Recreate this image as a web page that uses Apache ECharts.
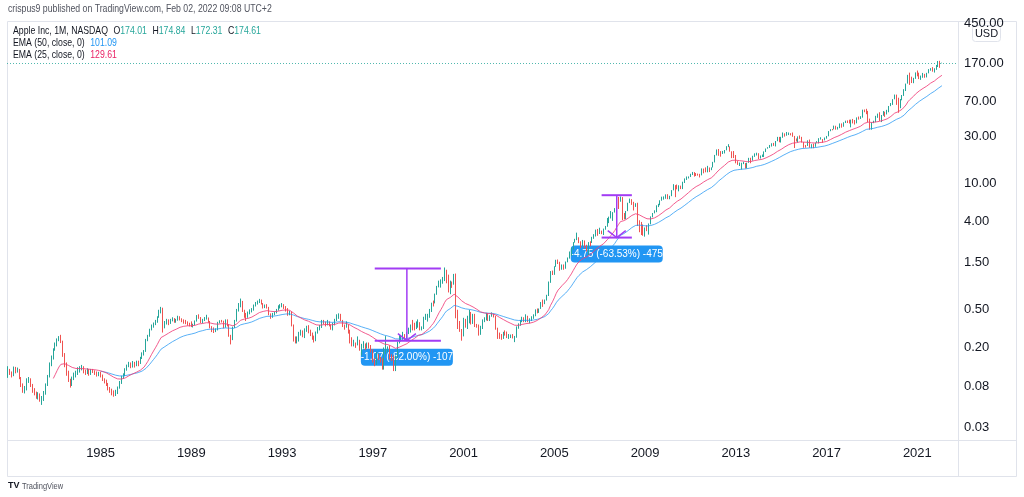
<!DOCTYPE html>
<html>
<head>
<meta charset="utf-8">
<script src="https://cdn.jsdelivr.net/npm/echarts@6/dist/echarts.min.js"></script>
<style>
html, body { margin: 0; padding: 0; background: #fff; }
#chart { width: 1024px; height: 497px; }
</style>
</head>
<body>
<div id="chart"></div>
<script>
// AAPL monthly bars, Dec 1980 .. Feb 2022 (split adjusted)
const firstYear = 1980, firstMonth = 12
const emptyMonths = 8 // blank space right of the last bar

const closes = [
  0.117,
  0.109, 0.104, 0.121, 0.114, 0.118, 0.098, 0.082, 0.071, 0.075, 0.091, 0.094, 0.082, // 1981
  0.072, 0.068, 0.063, 0.065, 0.058, 0.060, 0.068, 0.082, 0.100, 0.135, 0.155, 0.190, // 1982
  0.215, 0.240, 0.252, 0.230, 0.165, 0.132, 0.108, 0.092, 0.082, 0.095, 0.100, 0.107, // 1983
  0.118, 0.120, 0.126, 0.113, 0.110, 0.118, 0.108, 0.116, 0.113, 0.110, 0.105, 0.108, // 1984
  0.102, 0.093, 0.090, 0.083, 0.076, 0.071, 0.068, 0.066, 0.070, 0.076, 0.086, 0.098, // 1985
  0.103, 0.118, 0.128, 0.136, 0.127, 0.140, 0.131, 0.141, 0.137, 0.155, 0.172, 0.182, // 1986
  0.238, 0.262, 0.305, 0.335, 0.350, 0.372, 0.410, 0.470, 0.480, 0.325, 0.360, 0.375, // 1987
  0.362, 0.378, 0.392, 0.372, 0.382, 0.415, 0.395, 0.382, 0.372, 0.365, 0.345, 0.340, // 1988
  0.335, 0.345, 0.375, 0.420, 0.408, 0.368, 0.385, 0.395, 0.400, 0.370, 0.320, 0.312, // 1989
  0.302, 0.305, 0.360, 0.375, 0.372, 0.322, 0.378, 0.338, 0.262, 0.240, 0.322, 0.380, // 1990
  0.480, 0.540, 0.600, 0.480, 0.430, 0.420, 0.455, 0.480, 0.490, 0.545, 0.575, 0.590, // 1991
  0.610, 0.565, 0.525, 0.540, 0.520, 0.440, 0.420, 0.440, 0.460, 0.490, 0.520, 0.535, // 1992
  0.545, 0.520, 0.505, 0.445, 0.470, 0.340, 0.240, 0.230, 0.245, 0.280, 0.290, 0.260, // 1993
  0.300, 0.320, 0.295, 0.275, 0.255, 0.238, 0.285, 0.310, 0.330, 0.370, 0.360, 0.350, // 1994
  0.368, 0.335, 0.315, 0.350, 0.385, 0.410, 0.440, 0.380, 0.332, 0.325, 0.345, 0.285, // 1995
  0.245, 0.215, 0.220, 0.215, 0.240, 0.195, 0.205, 0.215, 0.200, 0.210, 0.205, 0.185, // 1996
  0.150, 0.135, 0.170, 0.155, 0.152, 0.128, 0.195, 0.195, 0.195, 0.160, 0.158, 0.117, // 1997
  0.158, 0.226, 0.240, 0.250, 0.268, 0.252, 0.285, 0.300, 0.340, 0.335, 0.325, 0.365, // 1998
  0.365, 0.315, 0.320, 0.410, 0.410, 0.410, 0.495, 0.575, 0.570, 0.715, 0.840, 0.918, // 1999
  0.920, 1.020, 1.210, 1.110, 0.750, 0.935, 0.910, 1.090, 0.460, 0.350, 0.295, 0.265, // 2000
  0.385, 0.325, 0.395, 0.455, 0.355, 0.415, 0.335, 0.330, 0.277, 0.315, 0.380, 0.391, // 2001
  0.440, 0.385, 0.423, 0.434, 0.416, 0.317, 0.271, 0.263, 0.259, 0.287, 0.270, 0.256, // 2002
  0.257, 0.269, 0.253, 0.255, 0.320, 0.341, 0.377, 0.403, 0.370, 0.409, 0.375, 0.382, // 2003
  0.402, 0.427, 0.483, 0.461, 0.502, 0.581, 0.580, 0.615, 0.692, 0.938, 1.200, 1.150, // 2004
  1.373, 1.606, 1.488, 1.290, 1.418, 1.315, 1.523, 1.677, 1.915, 2.053, 2.423, 2.567, // 2005
  2.699, 2.449, 2.240, 2.519, 2.133, 2.040, 2.425, 2.421, 2.749, 2.898, 3.272, 3.030, // 2006
  3.061, 3.000, 3.318, 3.564, 4.332, 4.359, 4.705, 4.966, 5.484, 6.782, 6.521, 7.074, // 2007
  4.831, 4.463, 5.125, 6.212, 6.743, 5.980, 5.669, 6.047, 4.059, 3.830, 3.297, 3.047, // 2008
  3.219, 3.187, 3.754, 4.494, 4.857, 5.087, 5.819, 5.981, 6.620, 6.732, 7.128, 7.530, // 2009
  6.859, 7.307, 8.392, 9.325, 9.172, 8.983, 9.188, 8.663, 10.134, 10.746, 11.201, 11.520, // 2010
  12.119, 12.614, 12.446, 12.429, 12.422, 11.988, 13.946, 13.714, 13.618, 14.464, 13.563, 14.464, // 2011
  16.302, 19.372, 21.412, 20.857, 20.633, 20.857, 21.812, 23.759, 23.826, 21.189, 20.904, 19.006, // 2012
  16.199, 15.808, 15.809, 15.813, 16.062, 14.147, 16.161, 17.400, 17.027, 18.605, 19.860, 20.037, // 2013
  17.879, 18.570, 19.169, 21.074, 22.607, 23.232, 23.900, 25.625, 25.187, 27.000, 29.733, 27.595, // 2014
  29.290, 32.115, 31.107, 31.265, 32.573, 31.357, 30.325, 28.190, 27.575, 29.875, 29.575, 26.315, // 2015
  24.335, 24.172, 27.248, 23.435, 24.965, 23.900, 26.052, 26.525, 28.263, 28.385, 27.630, 28.955, // 2016
  30.338, 34.248, 35.915, 35.913, 38.190, 36.005, 37.183, 41.000, 38.530, 42.260, 42.962, 42.307, // 2017
  41.857, 44.530, 41.945, 41.315, 46.718, 46.278, 47.573, 56.908, 56.436, 54.720, 44.645, 39.435, // 2018
  41.610, 43.288, 47.488, 50.168, 43.768, 49.480, 53.260, 52.185, 55.993, 62.190, 66.813, 73.413, // 2019
  77.378, 68.340, 63.573, 73.450, 79.485, 91.200, 106.26, 129.04, 115.81, 108.86, 119.05, 132.69, // 2020
  131.96, 121.26, 122.15, 131.46, 124.61, 136.96, 145.86, 151.83, 141.50, 149.80, 165.30, 177.57, // 2021
  174.78, 174.61 // 2022
]

const highs = [
  0.128,
  0.120, 0.113, 0.127, 0.126, 0.124, 0.120, 0.099, 0.085, 0.080, 0.096, 0.099, 0.096,
  0.084, 0.076, 0.070, 0.069, 0.067, 0.063, 0.071, 0.085, 0.104, 0.140, 0.165, 0.196,
  0.225, 0.248, 0.262, 0.270, 0.235, 0.175, 0.140, 0.115, 0.095, 0.100, 0.110, 0.115,
  0.125, 0.128, 0.132, 0.128, 0.118, 0.122, 0.120, 0.120, 0.120, 0.116, 0.113, 0.112,
  0.112, 0.105, 0.096, 0.093, 0.086, 0.078, 0.075, 0.072, 0.073, 0.079, 0.090, 0.102,
  0.108, 0.122, 0.133, 0.142, 0.140, 0.145, 0.142, 0.146, 0.146, 0.160, 0.178, 0.188,
  0.245, 0.270, 0.312, 0.345, 0.362, 0.385, 0.420, 0.490, 0.525, 0.515, 0.375, 0.395,
  0.390, 0.395, 0.410, 0.402, 0.395, 0.425, 0.420, 0.400, 0.390, 0.385, 0.372, 0.360,
  0.372, 0.352, 0.380, 0.432, 0.440, 0.412, 0.395, 0.412, 0.435, 0.408, 0.375, 0.332,
  0.322, 0.315, 0.368, 0.382, 0.385, 0.378, 0.390, 0.390, 0.345, 0.270, 0.328, 0.385,
  0.500, 0.575, 0.640, 0.605, 0.490, 0.455, 0.470, 0.495, 0.510, 0.555, 0.590, 0.610,
  0.635, 0.625, 0.575, 0.555, 0.560, 0.525, 0.450, 0.455, 0.470, 0.500, 0.545, 0.560,
  0.575, 0.560, 0.535, 0.510, 0.480, 0.470, 0.345, 0.260, 0.260, 0.290, 0.305, 0.300,
  0.315, 0.335, 0.340, 0.305, 0.285, 0.265, 0.292, 0.325, 0.342, 0.385, 0.385, 0.370,
  0.385, 0.372, 0.345, 0.360, 0.395, 0.440, 0.450, 0.445, 0.385, 0.345, 0.372, 0.345,
  0.305, 0.255, 0.240, 0.225, 0.260, 0.240, 0.218, 0.232, 0.220, 0.225, 0.225, 0.212,
  0.192, 0.155, 0.180, 0.172, 0.160, 0.155, 0.200, 0.262, 0.205, 0.210, 0.170, 0.165,
  0.165, 0.230, 0.270, 0.265, 0.290, 0.275, 0.290, 0.320, 0.345, 0.385, 0.360, 0.372,
  0.390, 0.365, 0.330, 0.415, 0.445, 0.445, 0.500, 0.580, 0.610, 0.720, 0.865, 0.980,
  1.010, 1.070, 1.340, 1.270, 1.130, 0.980, 0.960, 1.150, 1.160, 0.490, 0.375, 0.310,
  0.405, 0.395, 0.425, 0.490, 0.465, 0.445, 0.445, 0.350, 0.345, 0.335, 0.390, 0.410,
  0.455, 0.450, 0.430, 0.460, 0.445, 0.425, 0.320, 0.285, 0.275, 0.290, 0.300, 0.292,
  0.275, 0.272, 0.275, 0.263, 0.330, 0.355, 0.385, 0.415, 0.410, 0.440, 0.425, 0.400,
  0.420, 0.440, 0.495, 0.505, 0.505, 0.590, 0.625, 0.625, 0.700, 0.960, 1.230, 1.245,
  1.380, 1.610, 1.620, 1.535, 1.440, 1.440, 1.545, 1.700, 1.960, 2.150, 2.450, 2.650,
  3.070, 2.750, 2.500, 2.580, 2.550, 2.300, 2.450, 2.500, 2.780, 2.960, 3.300, 3.350,
  3.450, 3.220, 3.380, 3.600, 4.350, 4.490, 5.130, 5.000, 5.500, 6.960, 7.180, 7.250,
  7.150, 4.900, 5.140, 6.250, 6.900, 6.800, 6.390, 6.180, 6.250, 4.120, 3.960, 3.730,
  3.470, 3.660, 3.820, 4.520, 4.900, 5.220, 5.880, 6.090, 6.630, 7.220, 7.270, 7.630,
  7.660, 7.380, 8.440, 9.720, 9.500, 9.640, 9.470, 9.390, 10.310, 11.150, 11.670, 11.690,
  12.450, 13.000, 12.950, 12.670, 12.490, 12.430, 14.150, 14.100, 14.480, 15.030, 14.450, 14.500,
  16.540, 19.500, 22.200, 22.450, 21.330, 21.430, 21.900, 24.000, 25.180, 23.890, 21.250, 21.380,
  19.460, 16.830, 16.270, 16.190, 16.610, 16.040, 16.180, 18.190, 18.220, 19.120, 20.240, 20.540,
  20.300, 19.230, 19.670, 21.190, 22.710, 23.440, 24.710, 25.720, 25.960, 27.140, 29.940, 29.930,
  30.000, 33.240, 32.570, 33.630, 33.240, 32.690, 33.240, 30.640, 28.850, 30.300, 30.960, 29.970,
  26.460, 24.720, 27.610, 28.100, 25.180, 25.470, 26.140, 27.060, 29.030, 29.670, 28.440, 29.500,
  30.610, 34.370, 35.940, 36.120, 39.160, 39.010, 38.000, 41.240, 41.240, 42.410, 44.060, 44.300,
  45.030, 45.160, 45.880, 44.730, 47.590, 48.550, 48.990, 57.220, 57.420, 58.370, 55.590, 46.240,
  42.250, 43.970, 49.420, 52.120, 53.830, 50.390, 55.340, 54.510, 56.950, 62.440, 67.000, 73.490,
  81.960, 81.810, 76.000, 73.630, 81.060, 93.090, 106.42, 131.00, 137.98, 125.39, 121.99, 138.79,
  145.09, 137.88, 128.72, 137.07, 134.07, 137.41, 150.00, 153.49, 157.26, 153.17, 165.70, 182.13,
  182.94, 174.84
]

const lows = [
  0.097,
  0.104, 0.098, 0.101, 0.108, 0.110, 0.094, 0.078, 0.068, 0.067, 0.072, 0.086, 0.078,
  0.068, 0.064, 0.059, 0.058, 0.055, 0.051, 0.056, 0.065, 0.080, 0.098, 0.128, 0.150,
  0.185, 0.205, 0.232, 0.222, 0.160, 0.125, 0.102, 0.088, 0.077, 0.080, 0.092, 0.098,
  0.104, 0.110, 0.116, 0.108, 0.104, 0.106, 0.102, 0.104, 0.109, 0.104, 0.100, 0.101,
  0.098, 0.090, 0.085, 0.080, 0.072, 0.068, 0.064, 0.062, 0.063, 0.066, 0.075, 0.084,
  0.095, 0.101, 0.115, 0.125, 0.122, 0.124, 0.124, 0.128, 0.128, 0.135, 0.152, 0.165,
  0.180, 0.232, 0.258, 0.300, 0.320, 0.340, 0.360, 0.405, 0.450, 0.285, 0.315, 0.345,
  0.340, 0.350, 0.372, 0.360, 0.360, 0.378, 0.380, 0.365, 0.352, 0.348, 0.335, 0.330,
  0.325, 0.322, 0.338, 0.370, 0.395, 0.358, 0.355, 0.375, 0.388, 0.360, 0.315, 0.288,
  0.282, 0.288, 0.300, 0.355, 0.362, 0.315, 0.320, 0.330, 0.258, 0.215, 0.238, 0.318,
  0.370, 0.470, 0.520, 0.465, 0.405, 0.375, 0.405, 0.440, 0.460, 0.480, 0.530, 0.555,
  0.575, 0.555, 0.505, 0.510, 0.505, 0.430, 0.395, 0.405, 0.430, 0.450, 0.480, 0.505,
  0.520, 0.500, 0.470, 0.425, 0.430, 0.330, 0.230, 0.220, 0.220, 0.230, 0.265, 0.255,
  0.250, 0.290, 0.280, 0.262, 0.240, 0.225, 0.232, 0.278, 0.300, 0.318, 0.345, 0.330,
  0.338, 0.330, 0.305, 0.300, 0.338, 0.375, 0.395, 0.375, 0.325, 0.305, 0.320, 0.278,
  0.220, 0.205, 0.205, 0.198, 0.210, 0.185, 0.165, 0.195, 0.188, 0.195, 0.195, 0.178,
  0.140, 0.128, 0.132, 0.148, 0.140, 0.118, 0.118, 0.170, 0.180, 0.150, 0.145, 0.114,
  0.114, 0.155, 0.220, 0.230, 0.240, 0.240, 0.250, 0.275, 0.285, 0.300, 0.300, 0.310,
  0.320, 0.300, 0.300, 0.310, 0.385, 0.370, 0.405, 0.465, 0.530, 0.575, 0.700, 0.835,
  0.830, 0.910, 0.970, 0.920, 0.740, 0.710, 0.825, 0.890, 0.400, 0.310, 0.290, 0.235,
  0.260, 0.320, 0.310, 0.355, 0.345, 0.350, 0.325, 0.320, 0.265, 0.270, 0.310, 0.365,
  0.380, 0.375, 0.375, 0.415, 0.408, 0.305, 0.245, 0.245, 0.240, 0.245, 0.265, 0.250,
  0.245, 0.250, 0.248, 0.227, 0.252, 0.312, 0.335, 0.365, 0.365, 0.365, 0.365, 0.355,
  0.375, 0.395, 0.420, 0.450, 0.455, 0.500, 0.525, 0.560, 0.610, 0.680, 0.930, 1.120,
  1.125, 1.360, 1.455, 1.240, 1.270, 1.270, 1.300, 1.515, 1.655, 1.760, 2.050, 2.420,
  2.680, 2.390, 2.130, 2.220, 2.130, 1.960, 1.800, 2.220, 2.400, 2.650, 2.800, 2.850,
  2.970, 2.960, 2.900, 3.290, 3.530, 3.850, 4.300, 4.060, 4.950, 5.480, 5.390, 6.400,
  4.140, 4.200, 4.230, 5.120, 6.200, 5.940, 5.200, 5.660, 3.600, 3.100, 2.900, 2.850,
  2.790, 3.180, 2.930, 3.740, 4.420, 4.940, 4.990, 5.640, 5.890, 6.560, 6.760, 6.870,
  6.800, 6.790, 7.370, 8.400, 7.140, 8.600, 8.200, 8.650, 8.650, 10.000, 10.770, 11.130,
  11.560, 12.080, 11.640, 11.800, 11.910, 11.410, 12.250, 12.580, 12.890, 12.880, 12.970, 13.570,
  14.730, 16.300, 19.260, 19.080, 18.710, 19.930, 20.190, 21.730, 23.460, 21.050, 18.060, 18.080,
  15.970, 15.390, 14.970, 13.750, 15.650, 14.100, 14.420, 16.180, 16.000, 17.110, 18.620, 19.230,
  17.630, 17.910, 18.710, 18.540, 20.870, 22.680, 23.030, 23.790, 24.170, 23.850, 27.050, 26.350,
  26.160, 29.400, 30.140, 30.780, 31.500, 31.050, 30.020, 23.000, 26.830, 26.200, 28.560, 26.210,
  23.100, 23.150, 24.130, 23.100, 22.880, 22.880, 23.630, 26.000, 25.630, 28.070, 26.020, 27.560,
  28.690, 32.030, 34.310, 35.010, 35.850, 35.550, 35.600, 36.810, 37.290, 38.120, 41.620, 41.620,
  41.170, 37.560, 41.240, 40.160, 41.320, 45.180, 45.850, 47.290, 53.830, 51.360, 42.560, 35.500,
  35.500, 41.480, 42.380, 47.100, 43.750, 42.570, 49.660, 48.150, 51.060, 53.780, 62.290, 64.070,
  73.190, 64.090, 53.150, 59.220, 71.460, 79.300, 89.140, 107.89, 103.10, 107.72, 107.32, 120.01,
  126.38, 118.39, 116.21, 122.49, 122.25, 123.13, 135.76, 144.50, 141.27, 138.27, 147.48, 157.80,
  154.70, 172.31
]

// opens: previous month's close, except the two bars whose open is known
const knownOpens = { 0: 0.100, 494: 174.01 }

const priceTicks = [0.03, 0.08, 0.2, 0.5, 1.5, 4, 10, 30, 70, 170, 450]
const yearTicks = [1985, 1989, 1993, 1997, 2001, 2005, 2009, 2013, 2017, 2021]

// price range drawings: [from month, mid month, to month], [top price, bottom price]
const rangeMonths = [['1997-02', '1998-07', '2000-01'], ['2007-02', '2007-10', '2008-06']]
const rangePrices = [[1.305, 0.235], [7.48, 2.73]]
const rangeTexts = ['-1.07 (-82.00%) -107', '-4.75 (-63.53%) -475']

const legendLines = [
  ['Apple Inc, 1M, NASDAQ', 'O', '174.01', 'H', '174.84', 'L', '172.31', 'C', '174.61'],
  ['EMA (50, close, 0)', '101.09'],
  ['EMA (25, close, 0)', '129.61']
]

const UP = '#26a69a', DOWN = '#ef5350', BLUE = '#2196f3', PINK = '#f0407a'
const PURPLE = '#a23cf4', FRAME = '#e0e3eb', TEXT = '#131722'
const FONT = '"Liberation Sans", Arial, sans-serif'
const SQUEEZE = 0.83 // the screenshot's small texts are narrower than Liberation Sans

// months on the time axis
const months = []
{
	let y = firstYear, m = firstMonth
	for (let i = 0; i < closes.length + emptyMonths; i++) {
		months.push(y + '-' + String(m).padStart(2, '0'))
		m++
		if (m > 12) { m = 1; y++ }
	}
}

const candles = closes.map((c, i) => {
	const o = knownOpens[i] !== undefined ? knownOpens[i] : closes[i - 1]
	return [o, c, Math.min(lows[i], o, c), Math.max(highs[i], o, c)]
})

function ema(src, len) { // TradingView style ema, seeded with sma
	const k = 2 / (len + 1)
	const out = []
	let prev = null, sum = 0
	src.forEach((v, i) => {
		if (i < len - 1) { sum += v; out.push(null); return }
		if (prev === null) prev = (sum + v) / len
		else prev = v * k + prev * (1 - k)
		out.push(prev)
	})
	return out
}

const rangeData = rangeMonths.map((r, i) => [
	months.indexOf(r[0]), months.indexOf(r[1]), months.indexOf(r[2]), rangePrices[i][0], rangePrices[i][1]
])

const chart = echarts.init(document.getElementById('chart'))

const option = {
	animation: false,
	backgroundColor: '#fff',
	grid: { left: 7, right: 66, top: 22, bottom: 57 },
	xAxis: {
		type: 'category',
		data: months,
		axisLine: { show: false },
		axisTick: { show: false },
		splitLine: { show: false },
		axisLabel: {
			interval: (idx, val) => val.endsWith('-01') && yearTicks.includes(+val.slice(0, 4)),
			formatter: val => val.slice(0, 4),
			color: TEXT,
			fontSize: 13,
			fontFamily: FONT,
			margin: 7
		}
	},
	yAxis: {
		type: 'log',
		logBase: 10,
		position: 'right',
		min: 0.02213,
		max: 460.3,
		axisLine: { show: false },
		axisTick: { show: false },
		splitLine: { show: false },
		axisLabel: {
			customValues: priceTicks,
			formatter: v => v.toFixed(2),
			color: TEXT,
			fontSize: 13,
			fontFamily: FONT,
			margin: 6,
			align: 'left'
		}
	},
	series: [
		{
			type: 'custom', // labels of the price range drawings, under the bars
			z: 1,
			silent: true,
			data: rangeData,
			encode: { x: [0, 1, 2], y: [3, 4] },
			renderItem: (params, api) => {
				const m = api.coord([api.value(1), api.value(4)])
				return {
					type: 'rect',
					shape: { x: m[0] - 46, y: m[1] + 8, width: 92, height: 17, r: 4 },
					style: { fill: BLUE },
					textContent: {
						style: { text: rangeTexts[params.dataIndex], fill: '#fff', fontSize: 10, fontFamily: FONT }
					},
					textConfig: { position: 'inside' }
				}
			}
		},
		{
			type: 'candlestick',
			z: 2,
			data: candles,
			barWidth: '55%',
			itemStyle: { color: UP, color0: DOWN, borderColor: UP, borderColor0: DOWN, borderWidth: 1 },
			markLine: {
				silent: true,
				symbol: ['none', 'none'],
				label: { show: false },
				lineStyle: { color: UP, type: [1, 2], width: 1, opacity: 0.8 },
				data: [{ yAxis: closes[closes.length - 1] }]
			}
		},
		{
			name: 'EMA 50',
			type: 'line',
			z: 3,
			data: ema(closes, 50),
			showSymbol: false,
			lineStyle: { color: BLUE, width: 1, opacity: 0.75 }
		},
		{
			name: 'EMA 25',
			type: 'line',
			z: 3,
			data: ema(closes, 25),
			showSymbol: false,
			lineStyle: { color: PINK, width: 1, opacity: 0.85 }
		},
		{
			type: 'custom', // price range drawings
			z: 4,
			silent: true,
			data: rangeData,
			encode: { x: [0, 1, 2], y: [3, 4] },
			renderItem: (params, api) => {
				const a = api.coord([api.value(0), api.value(3)])
				const b = api.coord([api.value(2), api.value(4)])
				const m = api.coord([api.value(1), api.value(4)])
				const xm = m[0], yt = a[1], yb = b[1]
				const thick = { stroke: PURPLE, lineWidth: 2 }
				const thin = { stroke: PURPLE, lineWidth: 1.5, fill: null }
				return {
					type: 'group',
					children: [
						{ type: 'line', shape: { x1: a[0], y1: yt, x2: b[0], y2: yt }, style: thick },
						{ type: 'line', shape: { x1: a[0], y1: yb, x2: b[0], y2: yb }, style: thick },
						{ type: 'line', shape: { x1: xm, y1: yt, x2: xm, y2: yb }, style: thin },
						{ type: 'polyline', shape: { points: [[xm - 9, yb - 7], [xm, yb], [xm + 9, yb - 7]] }, style: thin }
					]
				}
			}
		}
	],
	graphic: [
		{
			type: 'text', x: 8, y: 4, scaleX: SQUEEZE,
			style: { text: 'crispus9 published on TradingView.com, Feb 02, 2022 09:08 UTC+2', fill: '#50535e', fontSize: 10.5, fontFamily: FONT }
		},
		{ type: 'rect', shape: { x: 7.5, y: 21.5, width: 1009, height: 455 }, style: { fill: null, stroke: FRAME, lineWidth: 1 }, silent: true },
		{ type: 'line', shape: { x1: 8, y1: 440.5, x2: 1016, y2: 440.5 }, style: { stroke: FRAME, lineWidth: 1 }, silent: true },
		{ type: 'line', shape: { x1: 958.5, y1: 22, x2: 958.5, y2: 476 }, style: { stroke: FRAME, lineWidth: 1 }, silent: true },
		{
			type: 'text', x: 13, y: 25, z: 10, scaleX: SQUEEZE,
			style: {
				text: '{n|' + legendLines[0][0] + '}  {n|O}{v|' + legendLines[0][2] + '}  {n|H}{v|' + legendLines[0][4] +
					'}  {n|L}{v|' + legendLines[0][6] + '}  {n|C}{v|' + legendLines[0][8] + '}',
				rich: {
					n: { fill: TEXT, fontSize: 10.5, fontFamily: FONT },
					v: { fill: UP, fontSize: 10.5, fontFamily: FONT }
				}
			}
		},
		{
			type: 'text', x: 13, y: 37, z: 10, scaleX: SQUEEZE,
			style: {
				text: '{n|' + legendLines[1][0] + '}  {b|' + legendLines[1][1] + '}',
				rich: { n: { fill: TEXT, fontSize: 10.5, fontFamily: FONT }, b: { fill: BLUE, fontSize: 10.5, fontFamily: FONT } }
			}
		},
		{
			type: 'text', x: 13, y: 49, z: 10, scaleX: SQUEEZE,
			style: {
				text: '{n|' + legendLines[2][0] + '}  {p|' + legendLines[2][1] + '}',
				rich: { n: { fill: TEXT, fontSize: 10.5, fontFamily: FONT }, p: { fill: '#e91e63', fontSize: 10.5, fontFamily: FONT } }
			}
		},
		{
			type: 'group', left: 972, top: 25, z: 10,
			children: [
				{ type: 'rect', shape: { x: 0, y: 0, width: 28, height: 16, r: 3 }, style: { fill: '#fff', stroke: FRAME, lineWidth: 1 } },
				{ type: 'text', x: 14, y: 8, style: { text: 'USD', fill: TEXT, fontSize: 11, fontFamily: FONT, align: 'center', verticalAlign: 'middle' } }
			]
		},
		{ type: 'text', left: 8, top: 481, style: { text: 'TV', fill: TEXT, fontSize: 9, fontWeight: 'bold', fontFamily: FONT } },
		{ type: 'text', x: 22, y: 482, scaleX: SQUEEZE, style: { text: 'TradingView', fill: '#50535e', fontSize: 9, fontFamily: FONT } }
	]
}

chart.setOption(option)
</script>
</body>
</html>
